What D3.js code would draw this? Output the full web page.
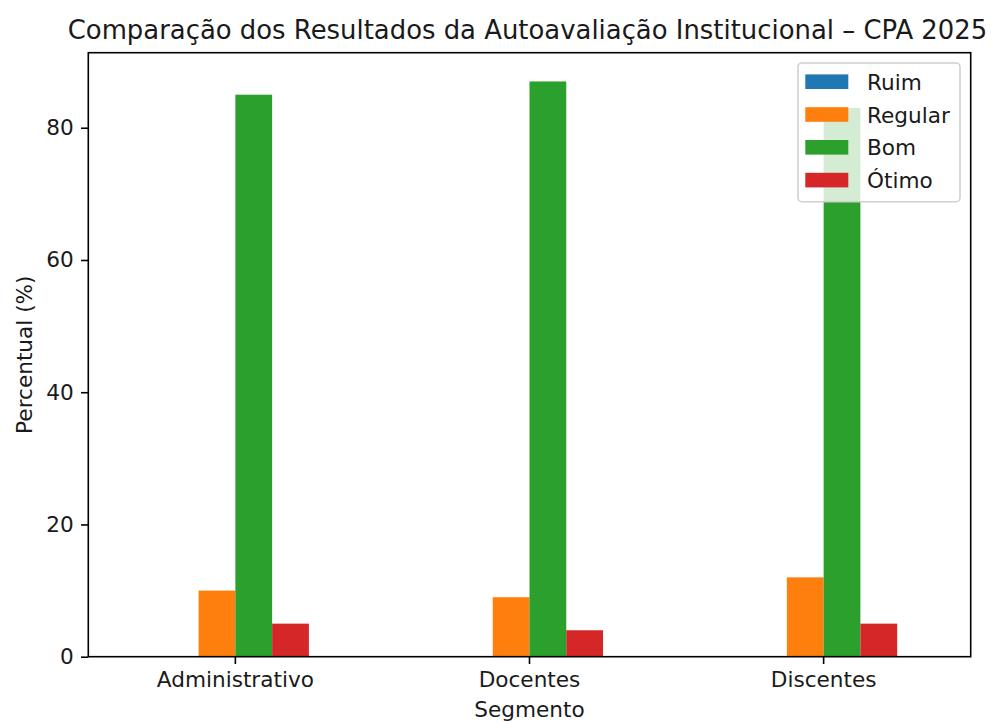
<!DOCTYPE html>
<html>
<head>
<meta charset="utf-8">
<script src="https://cdn.jsdelivr.net/npm/d3@7"></script>
<style>
  html, body { margin: 0; padding: 0; background: #fff; }
  svg { display: block; font-family: "DejaVu Sans", sans-serif; }
</style>
</head>
<body>
<svg id="chart" width="991" height="722"></svg>
<script>
// ---- Data ----
const categories = ["Administrativo", "Docentes", "Discentes"];
const series = ["Ruim", "Regular", "Bom", "Ótimo"];
const ruim    = [0, 0, 0];
const regular = [10, 9, 12];
const bom     = [85, 87, 83];
const otimo   = [5, 4, 5];
const colors  = ["#1f77b4", "#ff7f0e", "#2ca02c", "#d62728"];
const yTicks  = [0, 20, 40, 60, 80];
const title   = "Comparação dos Resultados da Autoavaliação Institucional – CPA 2025";
const xLabel  = "Segmento";
const yLabel  = "Percentual (%)";

const valuesBySeries = [ruim, regular, bom, otimo];

// ---- Layout ----
const L = 88.3, R = 970.7, T = 52.7, B = 656.7;
const fs = 21.6;
const svg = d3.select("#chart");

const x = d3.scaleBand().domain(categories).range([L, R]).padding(0);
const bw = x.bandwidth();
const xs = d3.scaleBand().domain(series).range([-0.25 * bw, 0.25 * bw]).padding(0);
const yMax = d3.max(valuesBySeries.flat()) * 1.05;
const y = d3.scaleLinear().domain([0, yMax]).range([B, T]);

// bars
const gBars = svg.append("g");
series.forEach((s, si) => {
  gBars.selectAll(null)
    .data(categories.map((c, ci) => ({c, v: valuesBySeries[si][ci]})))
    .enter().append("rect")
    .attr("x", d => x(d.c) + bw / 2 + xs(s))
    .attr("width", xs.bandwidth())
    .attr("y", d => y(d.v))
    .attr("height", d => y(0) - y(d.v))
    .attr("fill", colors[si]);
});

// axes
const yAxis = d3.axisLeft(y).tickValues(yTicks).tickSize(7.3).tickPadding(7.3).tickFormat(d3.format("d"));
const gy = svg.append("g").attr("transform", `translate(${L},0)`).call(yAxis);
gy.select(".domain").remove();
gy.selectAll(".tick line").attr("stroke", "#000").attr("stroke-width", 1.6);
gy.selectAll(".tick text").attr("font-size", fs).attr("fill", "#1a1a1a").attr("font-family", "DejaVu Sans");

const xAxis = d3.axisBottom(x).tickSize(7.3).tickPadding(7.3);
const gx = svg.append("g").attr("transform", `translate(0,${B})`).call(xAxis);
gx.select(".domain").remove();
gx.selectAll(".tick line").attr("stroke", "#000").attr("stroke-width", 1.6);
gx.selectAll(".tick text").attr("font-size", fs).attr("fill", "#1a1a1a").attr("font-family", "DejaVu Sans")
  .attr("dy", null).attr("y", 30.8);

// spines
svg.append("rect").attr("x", L).attr("y", T).attr("width", R - L).attr("height", B - T)
  .attr("fill", "none").attr("stroke", "#000").attr("stroke-width", 1.6);

// title & labels
svg.append("text").attr("x", (L + R) / 2 - 2).attr("y", 39).attr("text-anchor", "middle")
  .attr("font-size", 25.9).attr("fill", "#1a1a1a").text(title);
svg.append("text").attr("x", (L + R) / 2).attr("y", 717).attr("text-anchor", "middle")
  .attr("font-size", fs).attr("fill", "#1a1a1a").text(xLabel);
svg.append("text").attr("transform", `translate(32,${(T + B) / 2}) rotate(-90)`).attr("text-anchor", "middle")
  .attr("font-size", fs).attr("fill", "#1a1a1a").text(yLabel);

// legend
const lg = svg.append("g");
lg.append("rect").attr("x", 798).attr("y", 63).attr("width", 162).attr("height", 138.7)
  .attr("rx", 4).attr("ry", 4)
  .attr("fill", "rgba(255,255,255,0.8)").attr("stroke", "#d0d0d0").attr("stroke-width", 1.6);
series.forEach((s, i) => {
  const cy = 81.7 + i * 32.8;
  lg.append("rect").attr("x", 805.3).attr("y", cy - 7.3).attr("width", 43).attr("height", 14.6)
    .attr("fill", colors[i]);
  lg.append("text").attr("x", 867).attr("y", cy + 8).attr("font-size", fs).attr("fill", "#1a1a1a").text(s);
});
</script>
</body>
</html>
